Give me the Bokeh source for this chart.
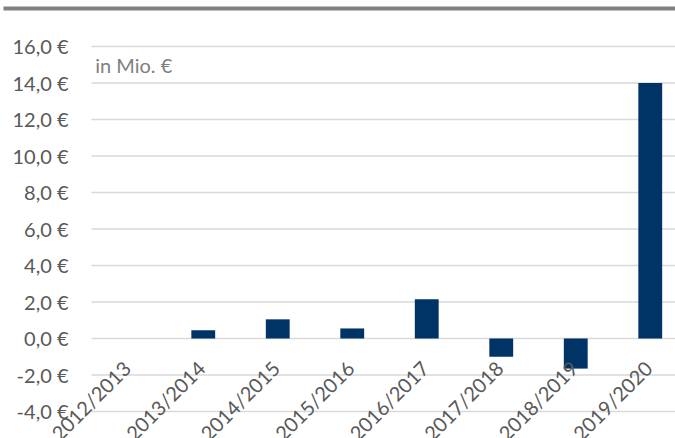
import math
from bokeh.plotting import figure
from bokeh.models import ColumnDataSource, Label, BoxAnnotation
from bokeh.core.properties import value
from bokeh.embed import file_html
from bokeh.resources import INLINE

categories = ["2012/2013", "2013/2014", "2014/2015", "2015/2016",
              "2016/2017", "2017/2018", "2018/2019", "2019/2020"]
values = [0.0, 0.45, 1.05, 0.55, 2.15, -1.0, -1.65, 14.0]
y_ticks = [-4, -2, 0, 2, 4, 6, 8, 10, 12, 14, 16]
y_tick_labels = [f"{t:.1f}".replace(".", ",") + " €" for t in y_ticks]
unit_label = "in Mio. €"

FONT = "Lato"
TEXT_GRAY = "#595959"
xs = list(range(len(categories)))

X0, X1 = -1.7215, 7.339
Y0, Y1 = -5.48, 18.52
p = figure(width=675, height=438, output_backend="svg", toolbar_location=None,
           x_range=(X0, X1), y_range=(Y0, Y1),
           min_border_left=0, min_border_right=0, min_border_top=0,
           min_border_bottom=0)
p.outline_line_color = None
p.background_fill_color = "white"
p.border_fill_color = "white"
p.xaxis.visible = False
p.yaxis.visible = False
p.grid.visible = False

# plot-area left edge in data units (half a category before the first one)
area_left = xs[0] - 0.5

# horizontal gridlines
gsrc = ColumnDataSource(dict(y=y_ticks, lab=y_tick_labels,
                             x0=[area_left] * len(y_ticks), x1=[X1] * len(y_ticks)))
p.segment(x0="x0", y0="y", x1="x1", y1="y", source=gsrc,
          line_color="#d9d9d9", line_width=1.5)

# y tick labels
p.text(x="x0", y="y", text="lab", source=gsrc, x_offset=-23,
       text_align="right", text_baseline="middle",
       text_font=value(FONT), text_font_size="20px", text_color=TEXT_GRAY)

# bars
src = ColumnDataSource(dict(x=xs, top=values, cat=categories,
                            ly=[-1.42] * len(categories)))
p.vbar(x="x", top="top", bottom=0, width=0.32, source=src,
       fill_color="#003366", line_color=None)

# rotated category labels
p.text(x="x", y="ly", text="cat", source=src, angle=math.pi / 4,
       text_align="right", text_baseline="middle", x_offset=-2,
       text_font=value(FONT), text_font_size="20px", text_color=TEXT_GRAY)

p.add_layout(Label(x=area_left + 0.05, y=15.0, text=unit_label, text_baseline="middle",
                   text_font=FONT, text_font_size="20px", text_color="#808080"))

# top gray rule
p.add_layout(BoxAnnotation(left=X0 + 0.04, bottom=17.97, top=18.19,
                           fill_color="#808080", fill_alpha=1.0, line_color=None))

open("out.html", "w").write(file_html(p, INLINE))
